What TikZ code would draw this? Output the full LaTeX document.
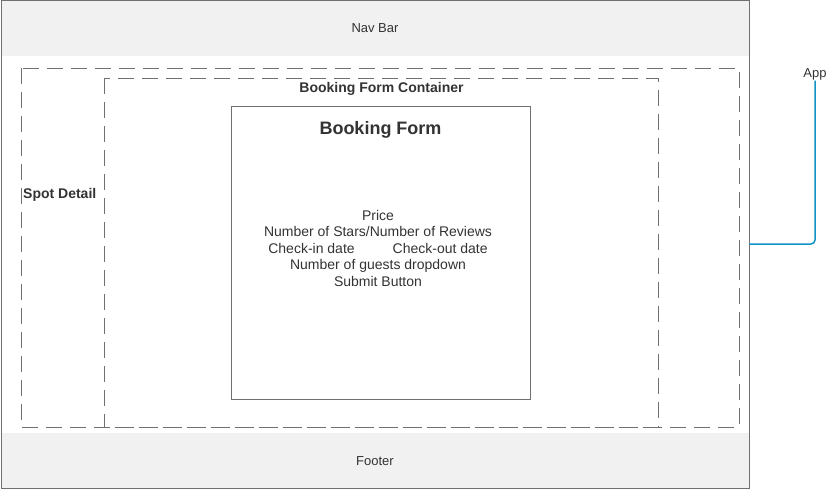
\documentclass[tikz,border=0pt]{standalone}
\usepackage{fontspec}
\setmainfont{Liberation Sans}
\definecolor{edge}{RGB}{112,112,112}
\definecolor{barfill}{RGB}{241,241,241}
\definecolor{link}{RGB}{16,147,196}
\definecolor{txt}{RGB}{51,51,51}
\begin{document}
\begin{tikzpicture}[x=1pt,y=-1pt,
  dashbox/.style={draw=edge,line width=1pt,dash pattern=on 16pt off 8pt},
  lbl/.style={inner sep=0pt,text=txt,font=\fontsize{14}{16.5}\selectfont},
  blbl/.style={inner sep=0pt,text=txt,font=\fontsize{14}{16.5}\selectfont\bfseries}]
\useasboundingbox (0,0) rectangle (828,490);
% bars
\fill[barfill] (1,1) rectangle (749,56);
\fill[barfill] (1,433) rectangle (749,489);
\node[lbl,font=\fontsize{13}{15}\selectfont] (nav) at (375,28.5) {Nav Bar};
\node[lbl,font=\fontsize{13}{15}\selectfont] (foot) at (375,461) {Footer};
% outer
\node[draw=edge,line width=1pt,minimum width=748pt,minimum height=488pt,inner sep=0pt] (app) at (375,244.5) {};
% spot detail
\draw[dashbox] (21,68) rectangle (739,427);
\draw[dashbox] (104,78) rectangle (658,427);
\node[blbl,anchor=west] (spot) at (23,195) {Spot Detail};
\node[blbl] (bfc) at (381.5,88.5) {Booking Form Container};
% booking form
\node[draw=edge,line width=1pt,minimum width=299pt,minimum height=293pt,inner sep=0pt] (bf) at (380.5,252.5) {};
\node[inner sep=0pt,text=txt,font=\fontsize{18}{21}\selectfont\bfseries] (bft) at (380.5,129.5) {Booking Form};
\node[lbl,align=center,anchor=north] (items) at (378,210) {Price\\Number of Stars/Number of Reviews\\Check-in date\hspace{38pt}Check-out date\\Number of guests dropdown\\Submit Button};
% App connector
\node[lbl,font=\fontsize{13}{15}\selectfont] (applbl) at (815,74.5) {App};
\coordinate (appin) at (749,244);
\draw[link,line width=1.5pt,rounded corners=4pt] (appin) -| (applbl.south);
\end{tikzpicture}
\end{document}
